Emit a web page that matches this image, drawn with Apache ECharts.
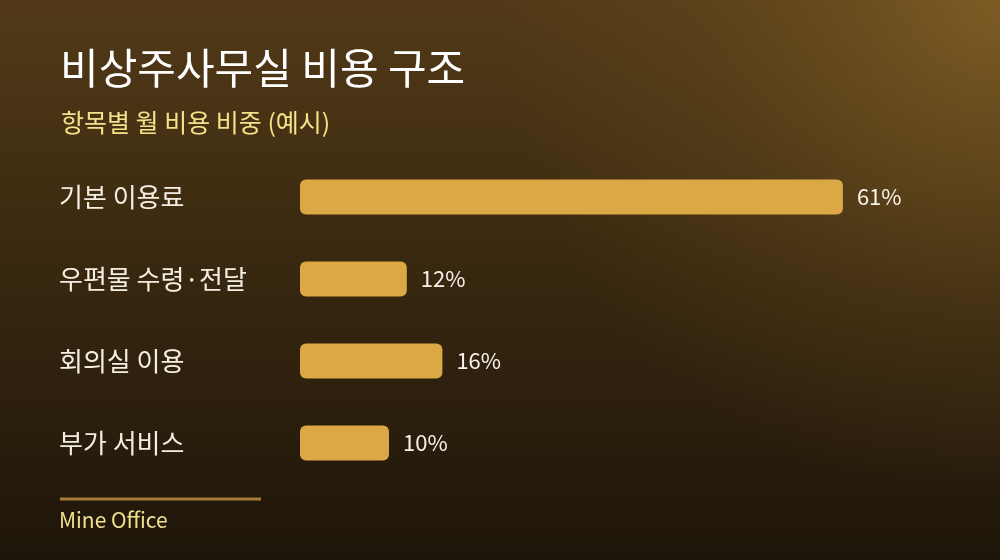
<!DOCTYPE html>
<html>
<head>
<meta charset="utf-8">
<script src="https://cdn.jsdelivr.net/npm/echarts@6/dist/echarts.min.js"></script>
<style>
  html, body { margin: 0; padding: 0; background: #2a1d0d; }
  #chart { width: 1000px; height: 560px; }
</style>
</head>
<body>
<div id="chart"></div>
<script>
const titleText = '비상주사무실 비용 구조';
const subtitleText = '항목별 월 비용 비중 (예시)';
const footerText = 'Mine Office';
const categories = ['기본 이용료', '우편물 수령·전달', '회의실 이용', '부가 서비스'];
const shares = [61, 12, 16, 10];

const FONT = '"Noto Sans CJK KR", "Noto Sans", sans-serif';
const chart = echarts.init(document.getElementById('chart'));
chart.setOption({
  animation: false,
  backgroundColor: {
    type: 'linear', x: 0, y: 0, x2: 0, y2: 1,
    colorStops: [
      { offset: 0, color: '#523a18' },
      { offset: 0.5, color: '#37270f' },
      { offset: 1, color: '#1e150a' }
    ]
  },
  graphic: [
    {
      type: 'rect', z: -10, silent: true,
      shape: { x: 0, y: 0, width: 1000, height: 560 },
      style: {
        fill: {
          type: 'radial', x: 1, y: 0, r: 0.9,
          colorStops: [
            { offset: 0, color: 'rgba(140,104,40,0.75)' },
            { offset: 0.6, color: 'rgba(120,88,34,0.25)' },
            { offset: 1, color: 'rgba(120,88,34,0)' }
          ]
        }
      }
    },
    {
      type: 'line', silent: true,
      shape: { x1: 60, y1: 499, x2: 261, y2: 499 },
      style: { stroke: '#a67d36', lineWidth: 3 }
    },
    {
      type: 'text', silent: true, left: 59, top: 510,
      style: { text: footerText, fill: '#efe08e', font: '21px ' + FONT }
    }
  ],
  title: [
    {
      text: titleText, left: 55, top: 42,
      textStyle: { color: '#ffffff', fontSize: 42, fontWeight: 400, fontFamily: FONT }
    },
    {
      text: subtitleText, left: 56, top: 105,
      textStyle: { color: '#f2e28a', fontSize: 25, fontWeight: 400, fontFamily: FONT }
    }
  ],
  grid: { left: 300, top: 156, width: 623, height: 328, containLabel: false },
  xAxis: {
    type: 'value', min: 0, max: 70, show: false
  },
  yAxis: {
    type: 'category', data: categories, inverse: true,
    axisLine: { show: false }, axisTick: { show: false }, splitLine: { show: false },
    axisLabel: {
      align: 'left', margin: 241, color: '#f3ede2', fontSize: 26, fontFamily: FONT
    }
  },
  series: [{
    type: 'bar', data: shares, barWidth: 35,
    itemStyle: { color: '#dca845', borderRadius: 6 },
    label: {
      show: true, position: 'right', distance: 14, formatter: '{c}%',
      color: '#f7f2ea', fontSize: 22, fontFamily: FONT
    }
  }]
});
</script>
</body>
</html>
